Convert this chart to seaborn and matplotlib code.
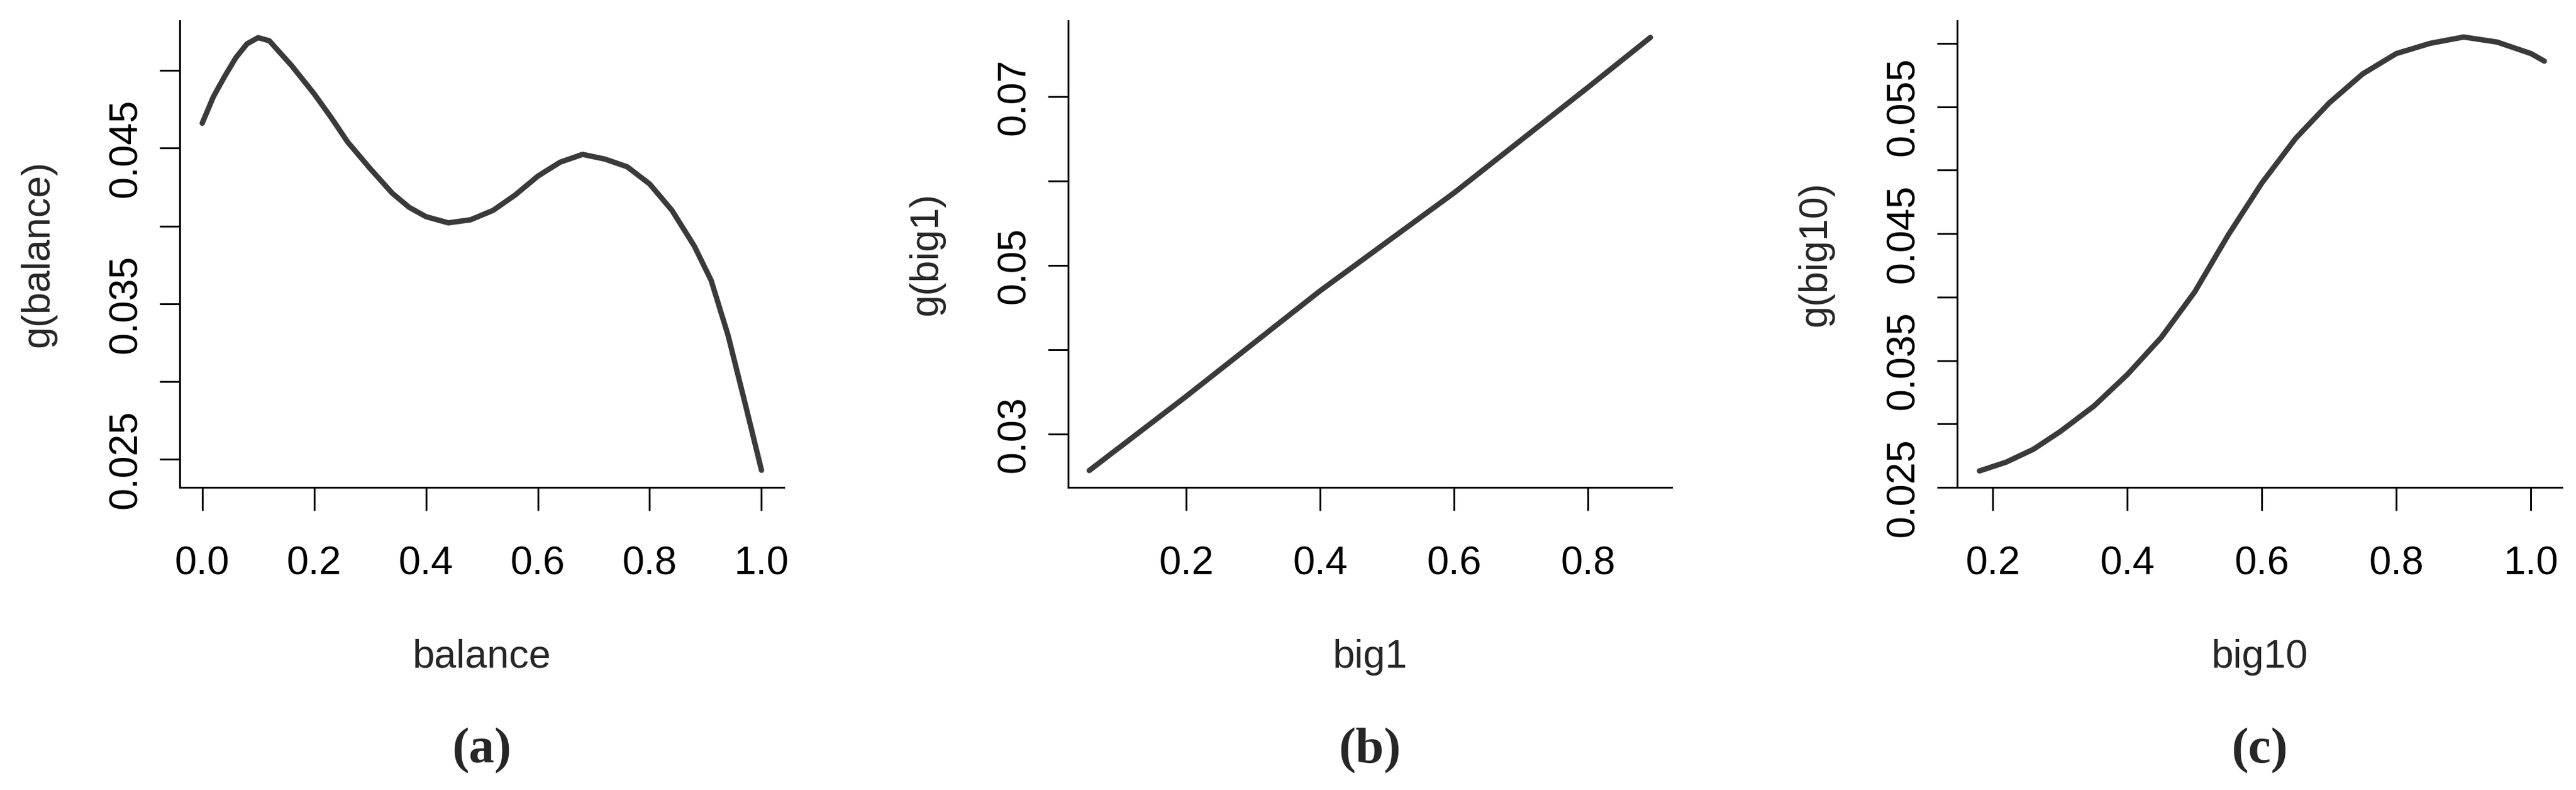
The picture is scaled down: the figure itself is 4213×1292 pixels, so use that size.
"""Partial dependence style curves for balance, big1 and big10."""

import pandas as pd
import matplotlib.pyplot as plt
import seaborn as sns

# panel (a)
balance_x = [0.0, 0.02, 0.04, 0.06, 0.08, 0.10, 0.12, 0.14, 0.16, 0.18, 0.20,
             0.23, 0.26, 0.30, 0.34, 0.37, 0.40, 0.44, 0.48, 0.52, 0.56, 0.60,
             0.64, 0.68, 0.72, 0.76, 0.80, 0.84, 0.88, 0.91, 0.94, 0.97, 1.0]
balance_g = [0.0466, 0.0483, 0.0496, 0.0508, 0.0517, 0.0521, 0.0519, 0.0511,
             0.0503, 0.0494, 0.0485, 0.0470, 0.0454, 0.0437, 0.0421, 0.0412,
             0.0406, 0.0402, 0.0404, 0.0410, 0.0420, 0.0432, 0.0441, 0.0446,
             0.0443, 0.0438, 0.0427, 0.0410, 0.0387, 0.0365, 0.0330, 0.0287,
             0.0243]
# panel (b)
big1_x = [0.055, 0.2, 0.4, 0.6, 0.8, 0.893]
big1_g = [0.0257, 0.0345, 0.0470, 0.0586, 0.0711, 0.0770]
# panel (c)
big10_x = [0.18, 0.22, 0.26, 0.30, 0.35, 0.40, 0.45, 0.50, 0.55, 0.60, 0.65,
           0.70, 0.75, 0.80, 0.85, 0.90, 0.95, 1.0, 1.02]
big10_g = [0.0263, 0.0270, 0.0280, 0.0294, 0.0314, 0.0339, 0.0368, 0.0404,
           0.0449, 0.0490, 0.0525, 0.0553, 0.0576, 0.0592, 0.0600, 0.0605,
           0.0601, 0.0592, 0.0586]

panels = [
    dict(x=balance_x, y=balance_g, name="balance", tag="a",
         xlim=(-0.04, 1.04), ylim=(0.0232, 0.0532),
         xticks=[0, 0.2, 0.4, 0.6, 0.8, 1.0], xlabels=["0.0", "0.2", "0.4", "0.6", "0.8", "1.0"],
         yticks=[0.025, 0.030, 0.035, 0.040, 0.045, 0.050],
         ylabels=["0.025", "", "0.035", "", "0.045", ""],
         pos=[0.0698, 0.383, 0.2345, 0.591]),
    dict(x=big1_x, y=big1_g, name="big1", tag="b",
         xlim=(0.0237, 0.925), ylim=(0.0237, 0.0790),
         xticks=[0.2, 0.4, 0.6, 0.8], xlabels=["0.2", "0.4", "0.6", "0.8"],
         yticks=[0.03, 0.04, 0.05, 0.06, 0.07],
         ylabels=["0.03", "", "0.05", "", "0.07"],
         pos=[0.4147, 0.383, 0.2343, 0.591]),
    dict(x=big10_x, y=big10_g, name="big10", tag="c",
         xlim=(0.147, 1.046), ylim=(0.025, 0.0618),
         xticks=[0.2, 0.4, 0.6, 0.8, 1.0], xlabels=["0.2", "0.4", "0.6", "0.8", "1.0"],
         yticks=[0.025, 0.030, 0.035, 0.040, 0.045, 0.050, 0.055, 0.060],
         ylabels=["0.025", "", "0.035", "", "0.045", "", "0.055", ""],
         pos=[0.7598, 0.383, 0.2347, 0.591]),
]

sns.set_style("ticks")
plt.rcParams["font.family"] = ["Liberation Sans", "DejaVu Sans"]

fig = plt.figure(figsize=(4213 / 300, 1292 / 300), dpi=300)

for p in panels:
    ax = fig.add_axes(p["pos"])
    df = pd.DataFrame({"x": p["x"], "g": p["y"]})
    sns.lineplot(data=df, x="x", y="g", ax=ax, color="#3a3a3a", linewidth=2.1)
    ax.set_xlim(*p["xlim"])
    ax.set_ylim(*p["ylim"])
    ax.set_xticks(p["xticks"], p["xlabels"])
    ax.set_yticks(p["yticks"], p["ylabels"], rotation=90, va="center")
    sns.despine(ax=ax)
    for s in ("left", "bottom"):
        ax.spines[s].set_linewidth(0.7)
        ax.spines[s].set_color("black")
    ax.tick_params(axis="both", colors="black", width=0.7, labelsize=15.5)
    ax.tick_params(axis="y", length=8, pad=6)
    ax.tick_params(axis="x", length=9, pad=14)
    ax.set_xlabel(p["name"], fontsize=15.5, labelpad=22)
    ax.set_ylabel(f"g({p['name']})", fontsize=15.5, labelpad=20)
    cx = p["pos"][0] + p["pos"][2] / 2
    fig.text(cx, 0.05, f"({p['tag']})", ha="center", va="center",
             fontsize=20, fontweight="bold", family="Liberation Serif")

fig.savefig("out.png", dpi=300)
